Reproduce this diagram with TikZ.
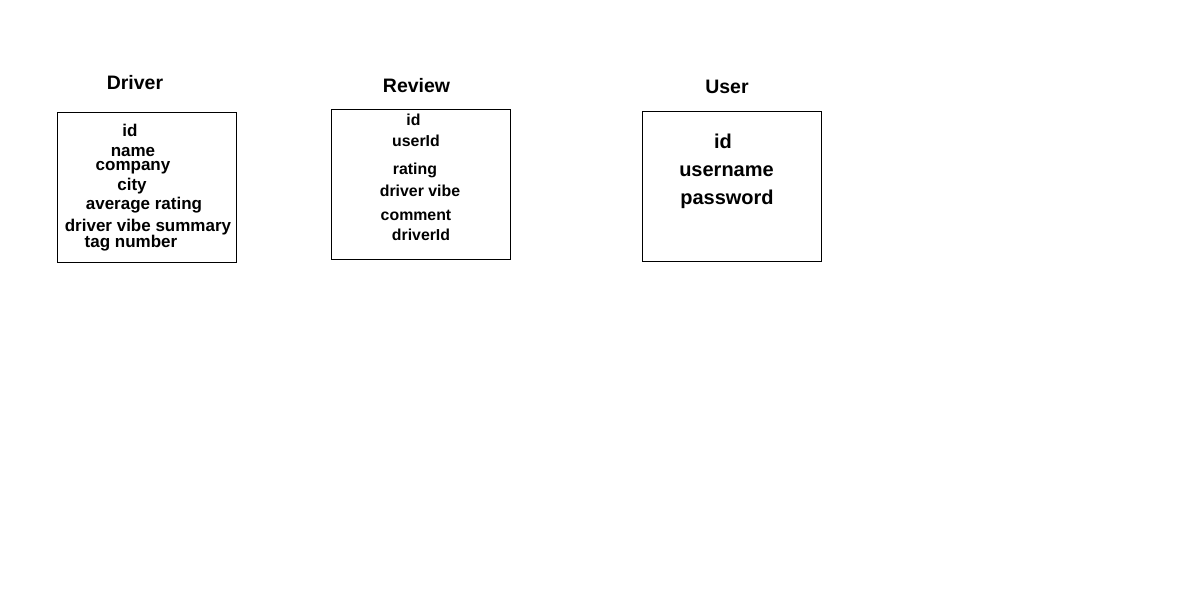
\documentclass[tikz,border=0pt]{standalone}
\usepackage{fontspec}
\setmainfont{Liberation Sans}
\usetikzlibrary{positioning}

\begin{document}
\begin{tikzpicture}[x=0.75pt,y=-0.75pt,inner sep=0pt]
        \tikzstyle{entity}=[draw,line width=0.75pt,minimum width=134.25pt,minimum height=112.5pt]
        \tikzstyle{title}=[anchor=base,font=\fontsize{14.6}{16}\bfseries\selectfont]
        \tikzstyle{field}=[anchor=base,font=\fontsize{12.75}{14}\bfseries\selectfont]
        \tikzstyle{small field}=[anchor=base,font=\fontsize{11.9}{13}\bfseries\selectfont]
        \tikzstyle{big field}=[anchor=base,font=\fontsize{15}{17}\bfseries\selectfont]

        \useasboundingbox (0,0) rectangle (1186,615);

        % Driver
        \node[entity] (driver) at (146.5,187.5) {};
        \node[title]  (driverT) at (135,89) {Driver};
        \node[field]  (d1) at (130,136) {id};
        \node[field]  (d2) at (133,156) {name};
        \node[field]  (d3) at (133,170) {company};
        \node[field]  (d4) at (132,190) {city};
        \node[field]  (d5) at (144,209) {average rating};
        \node[field]  (d6) at (148,231) {driver vibe summary};
        \node[field]  (d7) at (131,247) {tag number};

        % Review
        \node[entity] (review) at (420.5,184.5) {};
        \node[title]  (reviewT) at (416.5,92) {Review};
        \node[small field] (r1) at (413.5,125) {id};
        \node[small field] (r2) at (416,146) {userId};
        \node[small field] (r3) at (415,174) {rating};
        \node[small field] (r4) at (420,196) {driver vibe};
        \node[small field] (r5) at (416,220) {comment};
        \node[small field] (r6) at (421,240) {driverId};

        % User
        \node[entity] (user) at (731.5,186) {};
        \node[title]  (userT) at (727,93) {User};
        \node[big field] (u1) at (723,148) {id};
        \node[big field] (u2) at (726.5,176) {username};
        \node[big field] (u3) at (727,204) {password};
    \end{tikzpicture}
\end{document}
